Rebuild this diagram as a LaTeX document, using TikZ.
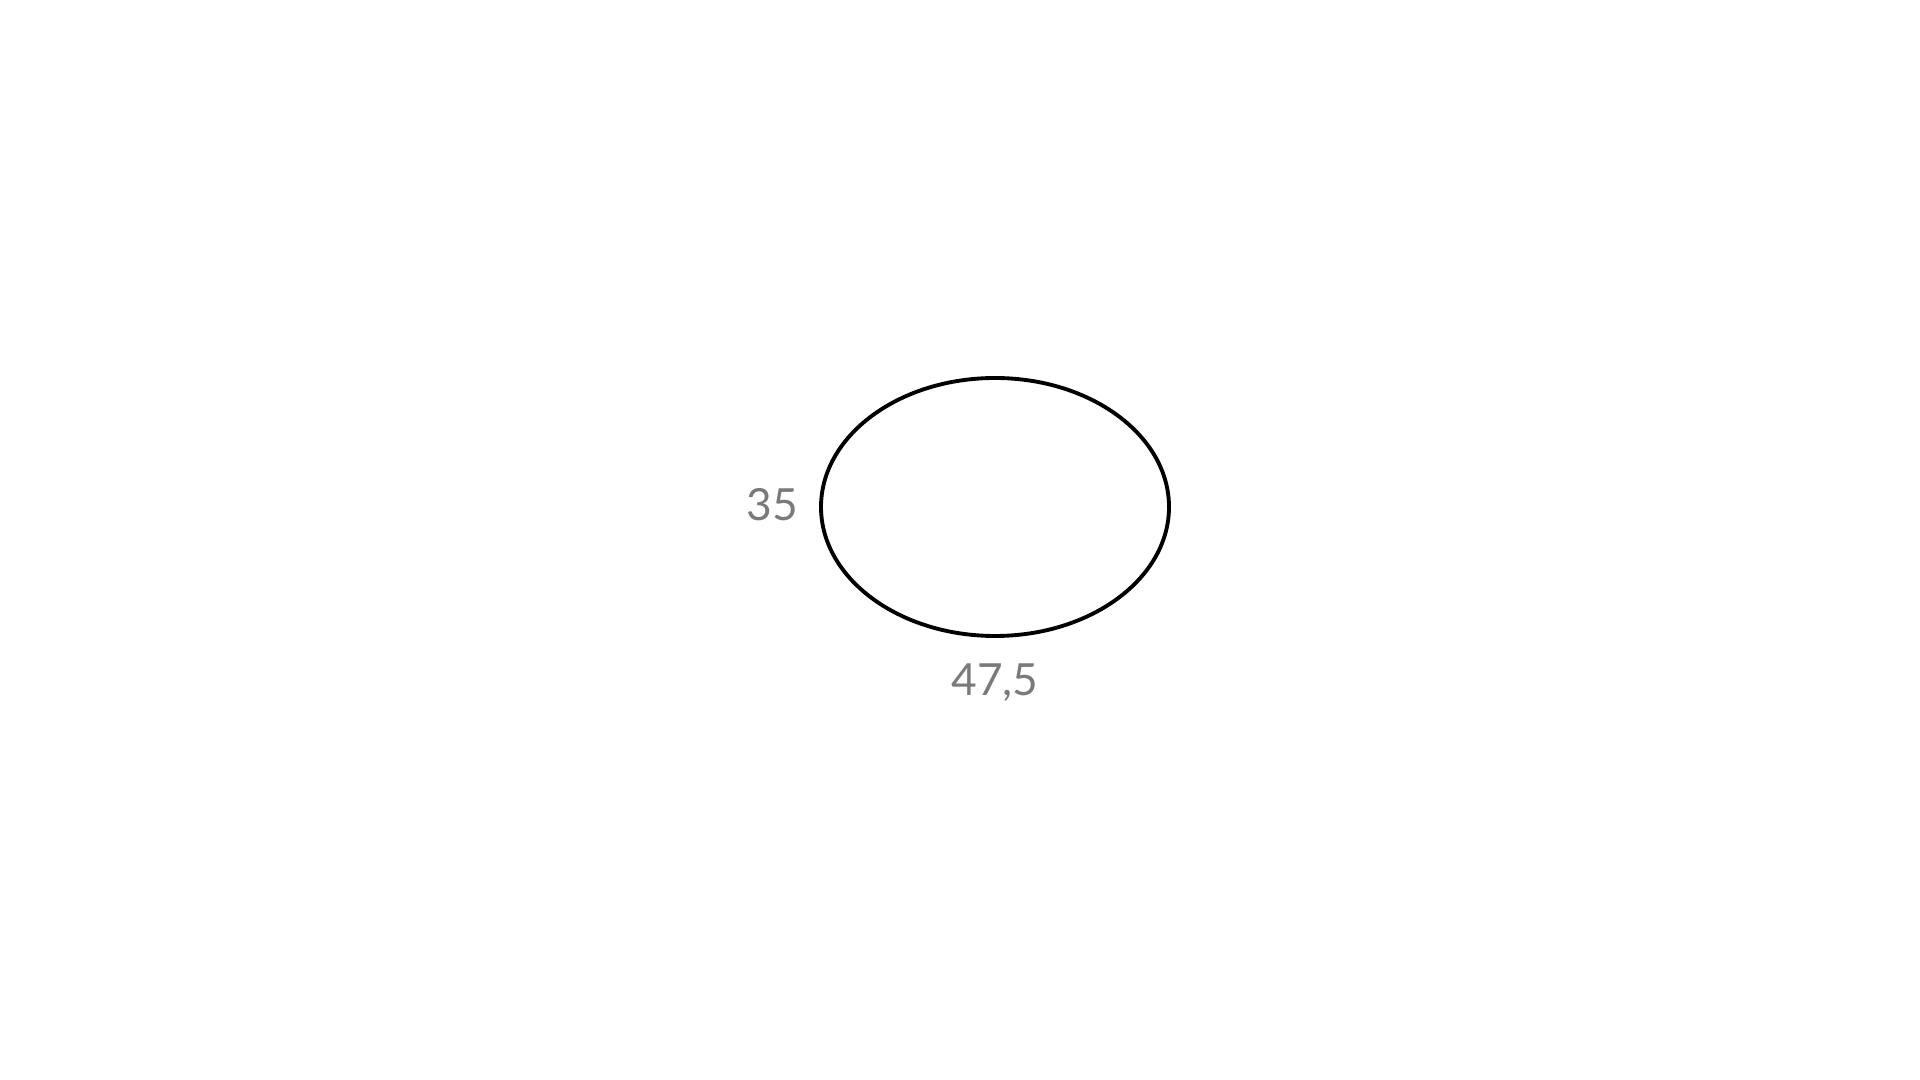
\documentclass[tikz,border=0pt]{standalone}
\usepackage{fontspec}
\setmainfont{Lato}
\usetikzlibrary{shapes.geometric}
\definecolor{labelgray}{HTML}{7A7A7A}
\tikzset{
  outline/.style={draw=black, line width=1.1pt},
  dimlabel/.style={text=labelgray, font=\fontsize{12.6pt}{15pt}\selectfont, inner sep=0pt, anchor=base}
}
\begin{document}
\begin{tikzpicture}
\useasboundingbox (0,0) rectangle (19.2,10.8);
\node[outline, ellipse, minimum width=3.48cm, minimum height=2.58cm, inner sep=0pt] (oval) at (9.95,5.73) {};
\node[dimlabel] (h) at (7.72,5.59) {35};
\node[dimlabel] (w) at (9.95,3.84) {47,5};
\end{tikzpicture}
\end{document}
